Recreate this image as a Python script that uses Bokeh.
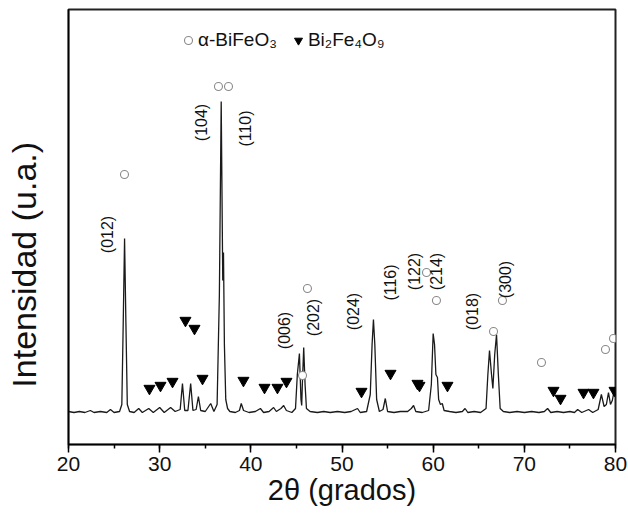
import math
from bokeh.plotting import figure
from bokeh.models import Range1d, SingleIntervalTicker, FixedTicker, Legend, LegendItem
from bokeh.core.properties import value
from bokeh.embed import file_html
from bokeh.resources import INLINE

# XRD trace: 2theta (deg) and intensity (a.u.)
two_theta = [20.0, 20.6, 21.2, 21.8, 22.4, 22.8, 23.5, 24.2, 24.6, 25.0, 25.6, 25.85, 26.0, 26.15, 26.3, 26.45, 26.7,
             27.2, 27.7, 28.1, 28.8, 29.3, 30.0, 30.5, 31.2, 31.7, 32.25, 32.5, 32.75, 33.1, 33.4, 33.65, 34.0, 34.25,
             34.5, 35.0, 35.6, 35.95, 36.3, 36.55, 36.75, 36.92, 37.0, 37.1, 37.25, 37.45, 37.7, 38.3, 38.75, 38.95,
             39.2, 39.8, 40.5, 41.05, 41.4, 42.0, 42.5, 42.8, 43.3, 43.6, 43.9, 44.5, 44.9, 45.1, 45.33, 45.5, 45.58,
             45.65, 45.8, 45.95, 46.1, 46.5, 47.3, 48.0, 48.7, 49.5, 50.3, 51.0, 51.7, 52.0, 52.7, 53.1, 53.3, 53.45,
             53.6, 53.8, 54.1, 54.5, 54.75, 55.0, 55.7, 56.4, 57.2, 57.6, 57.85, 58.1, 58.8, 59.5, 59.8, 60.0, 60.15,
             60.3, 60.47, 60.6, 60.8, 61.0, 61.2, 61.8, 62.5, 63.2, 63.5, 63.8, 64.5, 65.2, 65.8, 66.0, 66.18, 66.4,
             66.55, 66.75, 66.95, 67.15, 67.35, 67.7, 68.4, 69.2, 70.0, 70.8, 71.6, 72.2, 72.55, 72.9, 73.6, 74.3,
             75.0, 75.5, 75.85, 76.3, 77.05, 77.5, 78.1, 78.45, 78.75, 79.0, 79.23, 79.45, 79.65, 79.9, 80.0]
intensity = [33, 32, 33, 32, 34, 32, 33, 32, 35, 32, 33, 40, 120, 206, 120, 40, 33,
             32, 36, 32, 36, 32, 37, 32, 37, 33, 35, 61, 34, 34, 61, 34, 35, 48,
             34, 33, 41, 33, 40, 150, 343, 164, 192, 100, 45, 36, 33, 32, 34, 41,
             34, 32, 33, 36, 32, 33, 37, 33, 36, 39, 34, 32, 36, 70, 91, 45, 39,
             60, 97, 60, 36, 33, 32, 33, 32, 33, 32, 33, 36, 32, 33, 50, 100, 125,
             100, 45, 33, 35, 46, 33, 32, 33, 33, 36, 39, 33, 32, 34, 60, 111, 100,
             70, 67, 45, 40, 41, 34, 33, 32, 33, 36, 32, 33, 32, 36, 70, 94, 70,
             56, 90, 110, 70, 36, 33, 32, 33, 32, 33, 32, 33, 36, 32, 33, 32,
             33, 32, 35, 32, 35, 32, 35, 50, 38, 40, 52, 40, 44, 56, 52]

# alpha-BiFeO3 reflections (open circles)
bfo_x = [26.14, 36.45, 37.55, 45.67, 46.21, 59.27, 60.36, 67.60, 66.62, 71.88, 78.90, 79.78]
bfo_y = [270, 358, 358, 69, 156, 172, 144, 144, 113, 82, 95, 106]

# Bi2Fe4O9 reflections (filled triangles)
bi2_x = [28.88, 30.09, 31.41, 32.83, 33.82, 34.70, 39.19, 41.50, 42.92, 43.91, 52.14, 55.32, 58.28, 58.50,
         61.57, 73.20, 73.97, 76.49, 77.58, 79.89]
bi2_y = [56, 59, 63, 124, 116, 66, 64, 57, 57, 63, 53, 71, 61, 59, 59, 54, 46, 52, 52, 54]

# Miller index labels
hkl_text = ["(012)", "(104)", "(110)", "(006)", "(202)", "(024)", "(116)", "(122)", "(214)", "(018)", "(300)"]
hkl_x = [24.28, 34.59, 39.41, 43.69, 46.87, 51.26, 55.32, 57.95, 60.36, 64.31, 67.93]
hkl_y = [210, 322, 316, 114, 127, 133, 162, 173, 173, 133, 165]

FONT = "Liberation Sans"

p = figure(width=627, height=513, output_backend="svg", toolbar_location=None,
           x_range=Range1d(20, 80), y_range=Range1d(0, 435),
           min_border_left=68, min_border_right=12, min_border_top=9, min_border_bottom=69,
           x_axis_label="2θ (grados)",
           y_axis_label="Intensidad (u.a.)" + "\u00a0" * 8)

p.line(two_theta, intensity, line_color="#1a1a1a", line_width=1.3)
r_c = p.scatter(bfo_x, bfo_y, marker="circle", size=8, line_color="#8a8a8a",
                fill_color="white", line_width=1.1)
r_t = p.scatter(bi2_x, bi2_y, marker="inverted_triangle", size=11, color="black")
p.text(x=hkl_x, y=hkl_y, text=hkl_text, angle=math.pi / 2, text_align="center",
       text_baseline="middle", text_font=value(FONT), text_font_size="16px", text_color="#111111")

p.grid.visible = False
p.outline_line_color = "#222222"
p.outline_line_width = 2

xa = p.xaxis[0]
xa.ticker = SingleIntervalTicker(interval=10, num_minor_ticks=2)
xa.major_tick_in = 0
xa.major_tick_out = 8
xa.minor_tick_in = 0
xa.minor_tick_out = 4
xa.axis_line_width = 1.5
xa.major_tick_line_width = 1.5
xa.minor_tick_line_width = 1.5
xa.major_label_text_font = FONT
xa.major_label_text_font_size = "21px"
xa.major_label_text_color = "#111111"
xa.major_label_standoff = 4
xa.axis_label_text_font = FONT
xa.axis_label_text_font_size = "29px"
xa.axis_label_text_font_style = "normal"
xa.axis_label_text_color = "#111111"
xa.axis_label_standoff = 0

ya = p.yaxis[0]
ya.ticker = FixedTicker(ticks=[])
ya.major_tick_out = 0
ya.major_tick_in = 0
ya.minor_tick_out = 0
ya.minor_tick_in = 0
ya.axis_line_width = 1.5
ya.axis_label_text_font = FONT
ya.axis_label_text_font_size = "34px"
ya.axis_label_text_font_style = "normal"
ya.axis_label_text_color = "#111111"
ya.axis_label_standoff = 26

legend = Legend(items=[LegendItem(label="α-BiFeO₃", renderers=[r_c]),
                       LegendItem(label="Bi₂Fe₄O₉", renderers=[r_t])],
                orientation="horizontal", location=(110, 393),
                glyph_width=20, glyph_height=20, label_standoff=0, spacing=11,
                padding=0, margin=0, border_line_color=None, background_fill_alpha=0,
                label_text_font=FONT, label_text_font_size="19px", label_text_color="#111111")
p.add_layout(legend)

open("out.html", "w").write(file_html(p, INLINE))
